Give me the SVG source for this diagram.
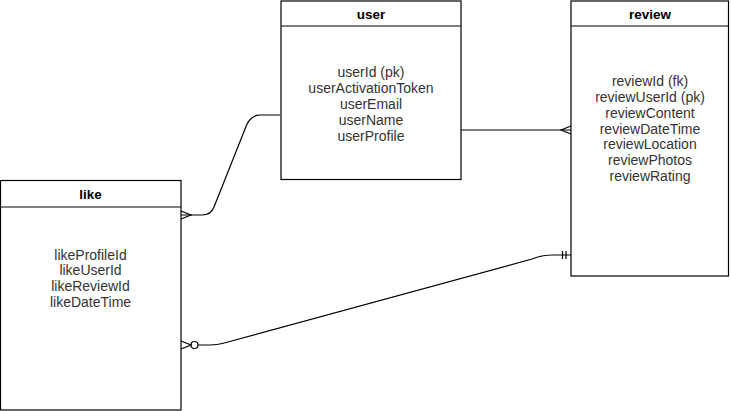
<svg xmlns="http://www.w3.org/2000/svg" width="731" height="411" viewBox="0 0 731 411">
<style>
.box{fill:#fff;stroke:#000;stroke-width:1.2}
.sep{stroke:#000;stroke-width:1.2}
.title{font-family:"Liberation Sans",Arial,sans-serif;font-size:13.5px;font-weight:bold;fill:#000;text-anchor:middle}
.attr{font-family:"Liberation Sans",Arial,sans-serif;font-size:14px;fill:#333;text-anchor:middle}
.edge{fill:none;stroke:#000;stroke-width:1.2}
</style>
<rect width="731" height="411" fill="#fff"/>
<g id="connectors">
  <path class="edge" d="M280 115 L260 115 Q252 115 247 124 L214 207 Q211 215 202 215 L181 215"/>
  <path class="edge" d="M181 211 L191 215 L181 219"/>
  <path class="edge" d="M461 130 L571 130"/>
  <path class="edge" d="M571 126 L561 130 L571 134"/>
  <path class="edge" d="M198 345 L210 345 Q218 345 228 342 L532 259 Q542 255 552 255 L571 255"/>
  <path class="edge" d="M181 341 L191 345 L181 349"/>
  <circle class="edge" cx="194.5" cy="345" r="3.5"/>
  <path class="edge" d="M562.5 251 L562.5 259 M566 251 L566 259"/>
</g>
<g id="user">
  <rect class="box" x="281" y="1" width="180" height="178.5"/>
  <line class="sep" x1="281" y1="26" x2="461" y2="26"/>
  <text class="title" x="371" y="18.5">user</text>
  <text class="attr" x="371" y="77">userId (pk)</text>
  <text class="attr" x="371" y="93">userActivationToken</text>
  <text class="attr" x="371" y="109">userEmail</text>
  <text class="attr" x="371" y="125">userName</text>
  <text class="attr" x="371" y="141">userProfile</text>
</g>
<g id="review">
  <rect class="box" x="571" y="1" width="157.5" height="275"/>
  <line class="sep" x1="571" y1="26" x2="728.5" y2="26"/>
  <text class="title" x="650" y="18.5">review</text>
  <text class="attr" x="650" y="86">reviewId (fk)</text>
  <text class="attr" x="650" y="101.8">reviewUserId (pk)</text>
  <text class="attr" x="650" y="117.7">reviewContent</text>
  <text class="attr" x="650" y="133.5">reviewDateTime</text>
  <text class="attr" x="650" y="149.3">reviewLocation</text>
  <text class="attr" x="650" y="165.2">reviewPhotos</text>
  <text class="attr" x="650" y="181">reviewRating</text>
</g>
<g id="like">
  <rect class="box" x="0.5" y="180.5" width="180.5" height="229.5"/>
  <line class="sep" x1="0.5" y1="207" x2="181" y2="207"/>
  <text class="title" x="90.5" y="199">like</text>
  <text class="attr" x="90.5" y="259.5">likeProfileId</text>
  <text class="attr" x="90.5" y="275.3">likeUserId</text>
  <text class="attr" x="90.5" y="291.2">likeReviewId</text>
  <text class="attr" x="90.5" y="307">likeDateTime</text>
</g>
</svg>
